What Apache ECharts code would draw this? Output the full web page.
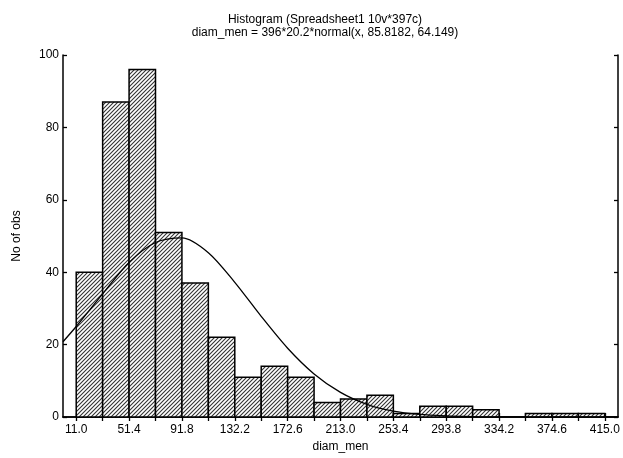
<!DOCTYPE html>
<html>
<head>
<meta charset="utf-8">
<script src="https://cdn.jsdelivr.net/npm/echarts@6/dist/echarts.min.js"></script>
<style>
  html, body { margin: 0; padding: 0; background: #fff; }
  #main { width: 623px; height: 458px; }
</style>
</head>
<body>
<div id="main"></div>
<script>
// bin boundaries of diam_men
const binEdges = [11.0, 31.2, 51.4, 71.6, 91.8, 112.0, 132.2, 152.4, 172.6, 192.8, 213.0,
  233.2, 253.4, 273.6, 293.8, 314.0, 334.2, 354.4, 374.6, 394.8, 415.0]
// No of obs per bin
const counts = [40, 87, 96, 51, 37, 22, 11, 14, 11, 4, 5, 6, 1, 3, 3, 2, 0, 1, 1, 1]
const xLabels = [11.0, 51.4, 91.8, 132.2, 172.6, 213.0, 253.4, 293.8, 334.2, 374.6, 415.0]
const yLabels = [0, 20, 40, 60, 80, 100]
// fitted normal curve
const curveX = [0.9, 11.0, 31.2, 51.4, 71.6, 91.8, 112.0, 132.2, 152.4, 172.6, 192.8, 213.0,
  233.2, 253.4, 273.6, 293.8, 314.0, 334.2, 354.4, 374.6, 394.8, 415.0, 425.1]
const curveY = [20.8, 25.0, 34.0, 42.7, 48.2, 49.5, 45.4, 37.2, 27.8, 19.0, 11.9, 6.8,
  3.5, 1.6, 0.7, 0.3, 0.1, 0, 0, 0, 0, 0, 0]

const font = 'Liberation Sans, Arial, sans-serif'

// diagonal hatch tile
function hatch() {
  const c = document.createElement('canvas')
  c.width = 4
  c.height = 4
  const ctx = c.getContext('2d')
  ctx.fillStyle = '#fff'
  ctx.fillRect(0, 0, 4, 4)
  ctx.strokeStyle = '#333'
  ctx.lineWidth = 1.1
  ctx.beginPath()
  ctx.moveTo(-1, 5); ctx.lineTo(5, -1)
  ctx.moveTo(-3, 3); ctx.lineTo(3, -3)
  ctx.moveTo(1, 7); ctx.lineTo(7, 1)
  ctx.stroke()
  return c
}
const pattern = { image: hatch(), repeat: 'repeat' }

const bars = counts.map((v, i) => [binEdges[i], binEdges[i + 1], v])
const curve = curveX.map((x, i) => [x, curveY[i]])

const chart = echarts.init(document.getElementById('main'))
const axisLine = { show: true, lineStyle: { color: '#000', width: 1.5 } }
const tick = { show: true, inside: true, length: 4, lineStyle: { color: '#000', width: 1.3 } }

chart.setOption({
  animation: false,
  title: [{
    text: 'Histogram (Spreadsheet1 10v*397c)',
    left: 320, top: 9, textAlign: 'center',
    textStyle: { fontFamily: font, fontSize: 12, fontWeight: 'normal', color: '#000' }
  }, {
    text: 'diam_men = 396*20.2*normal(x, 85.8182, 64.149)',
    left: 320, top: 22, textAlign: 'center',
    textStyle: { fontFamily: font, fontSize: 12, fontWeight: 'normal', color: '#000' }
  }],
  grid: { left: 63, right: 5, top: 55, bottom: 41 },
  xAxis: [{
    type: 'value',
    min: 0.9,
    max: 425.1,
    name: 'diam_men',
    nameLocation: 'middle',
    nameGap: 18,
    nameTextStyle: { fontFamily: font, fontSize: 12, color: '#000' },
    axisLine,
    axisTick: { ...tick, customValues: binEdges },
    axisLabel: {
      customValues: xLabels,
      formatter: v => v.toFixed(1),
      fontFamily: font, fontSize: 12, color: '#000', margin: 7
    },
    splitLine: { show: false }
  }, {
    type: 'value',
    position: 'top',
    min: 0.9,
    max: 425.1,
    axisLine,
    axisTick: { ...tick, customValues: binEdges },
    axisLabel: { show: false },
    splitLine: { show: false }
  }],
  yAxis: [{
    type: 'value',
    min: 0,
    max: 100,
    name: 'No of obs',
    nameLocation: 'middle',
    nameGap: 40,
    nameTextStyle: { fontFamily: font, fontSize: 12, color: '#000' },
    axisLine,
    axisTick: { ...tick, customValues: yLabels },
    axisLabel: { customValues: yLabels, fontFamily: font, fontSize: 12, color: '#000', margin: 4 },
    splitLine: { show: false }
  }, {
    type: 'value',
    position: 'right',
    min: 0,
    max: 100,
    axisLine,
    axisTick: { ...tick, customValues: yLabels },
    axisLabel: { show: false },
    splitLine: { show: false }
  }],
  series: [{
    type: 'custom',
    data: bars,
    renderItem(params, api) {
      const h = api.value(2)
      if (!h) return null
      const p0 = api.coord([api.value(0), h])
      const p1 = api.coord([api.value(1), 0])
      return {
        type: 'rect',
        shape: { x: p0[0], y: p0[1], width: p1[0] - p0[0], height: p1[1] - p0[1] },
        style: { fill: pattern, stroke: '#000', lineWidth: 1.5 }
      }
    }
  }, {
    type: 'line',
    data: curve,
    smooth: 0.3,
    symbol: 'none',
    lineStyle: { color: '#000', width: 1.3 },
    z: 5
  }]
})
</script>
</body>
</html>
